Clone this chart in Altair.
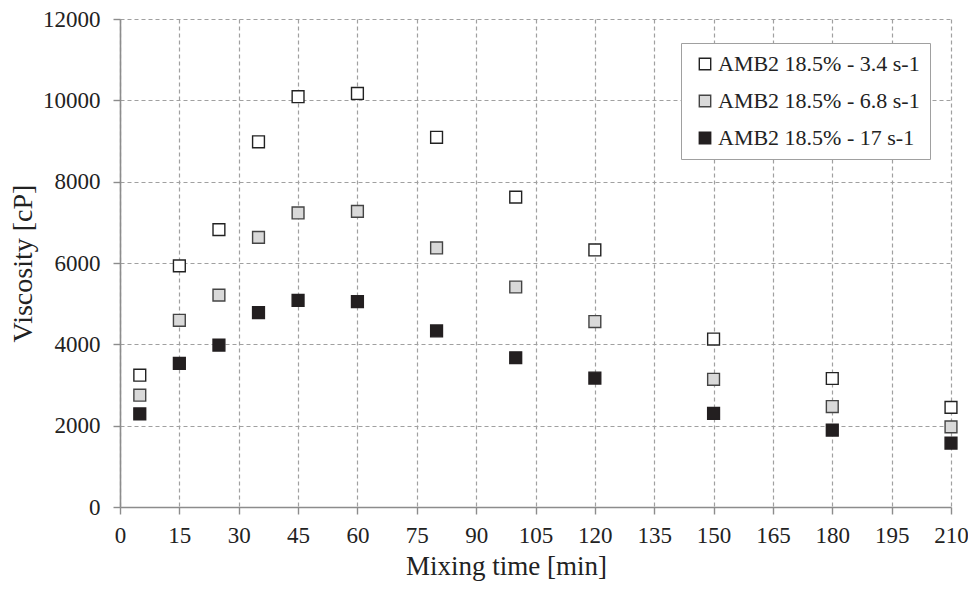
import altair as alt
import pandas as pd

times = [5, 15, 25, 35, 45, 60, 80, 100, 120, 150, 180, 210]
series_names = ["AMB2 18.5% - 3.4 s-1", "AMB2 18.5% - 6.8 s-1", "AMB2 18.5% - 17 s-1"]
visc_34 = [3240, 5930, 6820, 8980, 10090, 10170, 9090, 7620, 6320, 4130, 3160, 2450]
visc_68 = [2750, 4590, 5210, 6630, 7230, 7270, 6370, 5410, 4560, 3140, 2470, 1970]
visc_17 = [2290, 3530, 3980, 4780, 5080, 5050, 4330, 3670, 3170, 2300, 1890, 1570]

x_ticks = list(range(0, 211, 15))
y_ticks = list(range(0, 12001, 2000))

rows = []
for name, vals in zip(series_names, [visc_34, visc_68, visc_17]):
    for t, v in zip(times, vals):
        rows.append({"time": t, "visc": v, "series": name})
df = pd.DataFrame(rows)

FONT = "Liberation Serif"

chart = alt.Chart(df).mark_point(
    shape="square", filled=True, size=140, strokeWidth=1.4, opacity=1
).encode(
    x=alt.X("time:Q",
            scale=alt.Scale(domain=[0, 210], nice=False, zero=True),
            axis=alt.Axis(values=x_ticks, title="Mixing time [min]", format="d",
                          labelFont=FONT, titleFont=FONT,
                          titleX=386, titleY=67, titleBaseline="alphabetic",
                          titleAlign="center", titleFontSize=27,
                          labelPadding=10)),
    y=alt.Y("visc:Q",
            scale=alt.Scale(domain=[0, 12000], nice=False),
            axis=alt.Axis(values=y_ticks, title="Viscosity [cP]", format="d",
                          labelFont=FONT, titleFont=FONT,
                          titleX=-97, titleY=244, titleBaseline="middle",
                          titleAlign="center", titleAngle=-90, titleFontSize=28,
                          labelPadding=13)),
    fill=alt.Fill("series:N",
                  scale=alt.Scale(domain=series_names,
                                  range=["#ffffff", "#d9d9d9", "#231f20"]),
                  sort=series_names,
                  legend=alt.Legend(title=None, orient="none",
                                    legendX=561, legendY=24)),
    stroke=alt.Stroke("series:N",
                      scale=alt.Scale(domain=series_names,
                                      range=["#222222", "#444444", "#231f20"]),
                      sort=series_names, legend=None),
).properties(
    width=831, height=488,
    autosize=alt.AutoSizeParams(type="none"),
    padding={"left": 112, "top": 11, "right": 17, "bottom": 74},
).configure_view(
    stroke=None
).configure_axis(
    labelFont=FONT, titleFont=FONT,
    labelFontSize=23,
    titleFontWeight="normal",
    labelColor="#222222", titleColor="#222222",
    domainColor="#8c8c8c", domainWidth=1.6,
    tickColor="#8c8c8c", tickSize=7, tickWidth=1.4,
    gridColor="#a0a0a0", gridDash=[4, 3], gridWidth=1.2,
    labelFlush=False,
).configure_legend(
    labelFont=FONT, labelFontSize=22, labelColor="#222222",
    strokeColor="#a0a0a0", fillColor="#ffffff",
    padding=10, rowPadding=15, symbolType="square", symbolSize=130,
    symbolStrokeWidth=1.4, symbolOffset=3, labelOffset=2, labelLimit=400,
    cornerRadius=0,
)

chart.save("out.html", embed_options={"renderer": "svg", "actions": False})
